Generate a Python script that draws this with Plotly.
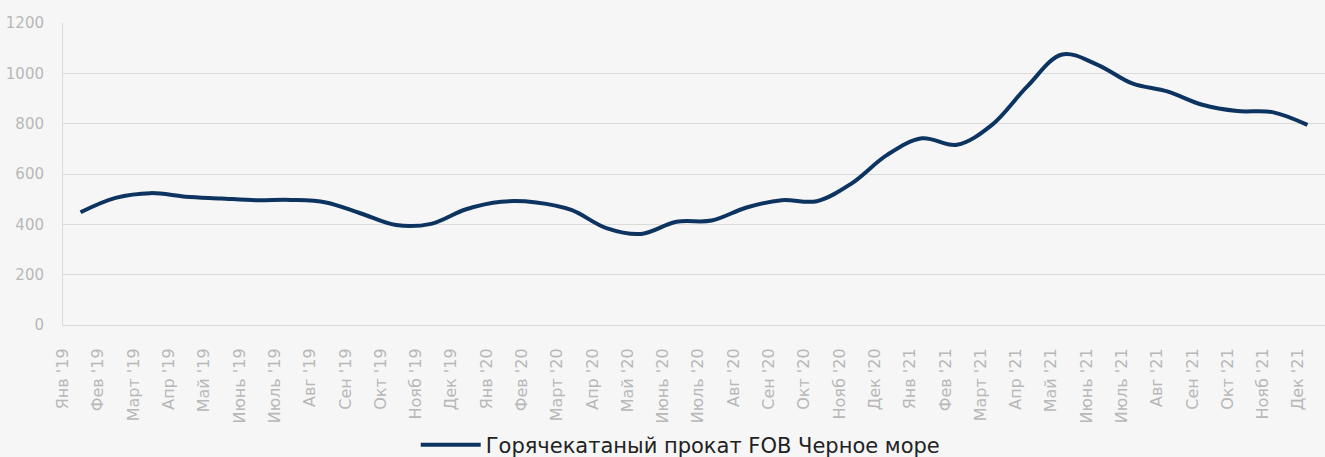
import plotly.graph_objects as go

months = ["Янв '19", "Фев '19", "Март '19", "Апр '19", "Май '19", "Июнь '19",
          "Июль '19", "Авг '19", "Сен '19", "Окт '19", "Нояб '19", "Дек '19",
          "Янв '20", "Фев '20", "Март '20", "Апр '20", "Май '20", "Июнь '20",
          "Июль '20", "Авг '20", "Сен '20", "Окт '20", "Нояб '20", "Дек '20",
          "Янв '21", "Фев '21", "Март '21", "Апр '21", "Май '21", "Июнь '21",
          "Июль '21", "Авг '21", "Сен '21", "Окт '21", "Нояб '21", "Дек '21"]

hrc_fob_black_sea = [448, 505, 524, 510, 503, 496, 497, 487, 443, 397, 402, 460,
                     490, 487, 457, 385, 362, 410, 415, 467, 496, 492, 563, 675,
                     742, 716, 795, 947, 1075, 1035, 960, 928, 875, 850, 846, 795]

series_name = "Горячекатаный прокат FOB Черное море"
y_ticks = [0, 200, 400, 600, 800, 1000, 1200]

x_idx = list(range(len(months)))
label_pos = [i - 0.5 + 0.0068 * i for i in x_idx]

BG = "#f6f6f6"
GRID = "#dadada"
TICK = "#b8b8b8"
LINE = "#0d3461"
FONT = "DejaVu Sans"

fig = go.Figure()
fig.add_trace(go.Scatter(
    x=x_idx, y=hrc_fob_black_sea, mode="lines", name=series_name,
    line=dict(color=LINE, width=4, shape="spline", smoothing=1.0),
    showlegend=True,
))

fig.update_layout(
    width=1325, height=457,
    paper_bgcolor=BG, plot_bgcolor=BG,
    margin=dict(l=63, r=0, t=23, b=132, autoexpand=False),
    font=dict(family=FONT, color=TICK),
    showlegend=True,
    legend=dict(orientation="h", x=0.2795, xanchor="left",
                yref="container", y=0.026, yanchor="middle",
                font=dict(family=FONT, size=21, color="#222222"),
                itemwidth=60, bgcolor="rgba(0,0,0,0)"),
    xaxis=dict(range=[-0.5, 35.5], tickmode="array", tickvals=label_pos, ticktext=months,
               tickangle=-90, tickfont=dict(size=16, color=TICK, family=FONT),
               showgrid=False, zeroline=False, showline=True, linecolor=GRID, linewidth=1,
               ticks="", ticklabelstandoff=16, automargin=False),
    yaxis=dict(range=[0, 1200], tickmode="array", tickvals=y_ticks,
               tickfont=dict(size=15, color=TICK, family=FONT),
               showgrid=True, gridcolor=GRID, gridwidth=1, zeroline=False,
               showline=True, linecolor=GRID, linewidth=1, ticks="",
               ticklabelstandoff=15, automargin=False),
)

fig.write_html("out.html", config={"displayModeBar": False},
               post_script="document.body.style.margin='0';document.body.style.background='" + BG + "';")
